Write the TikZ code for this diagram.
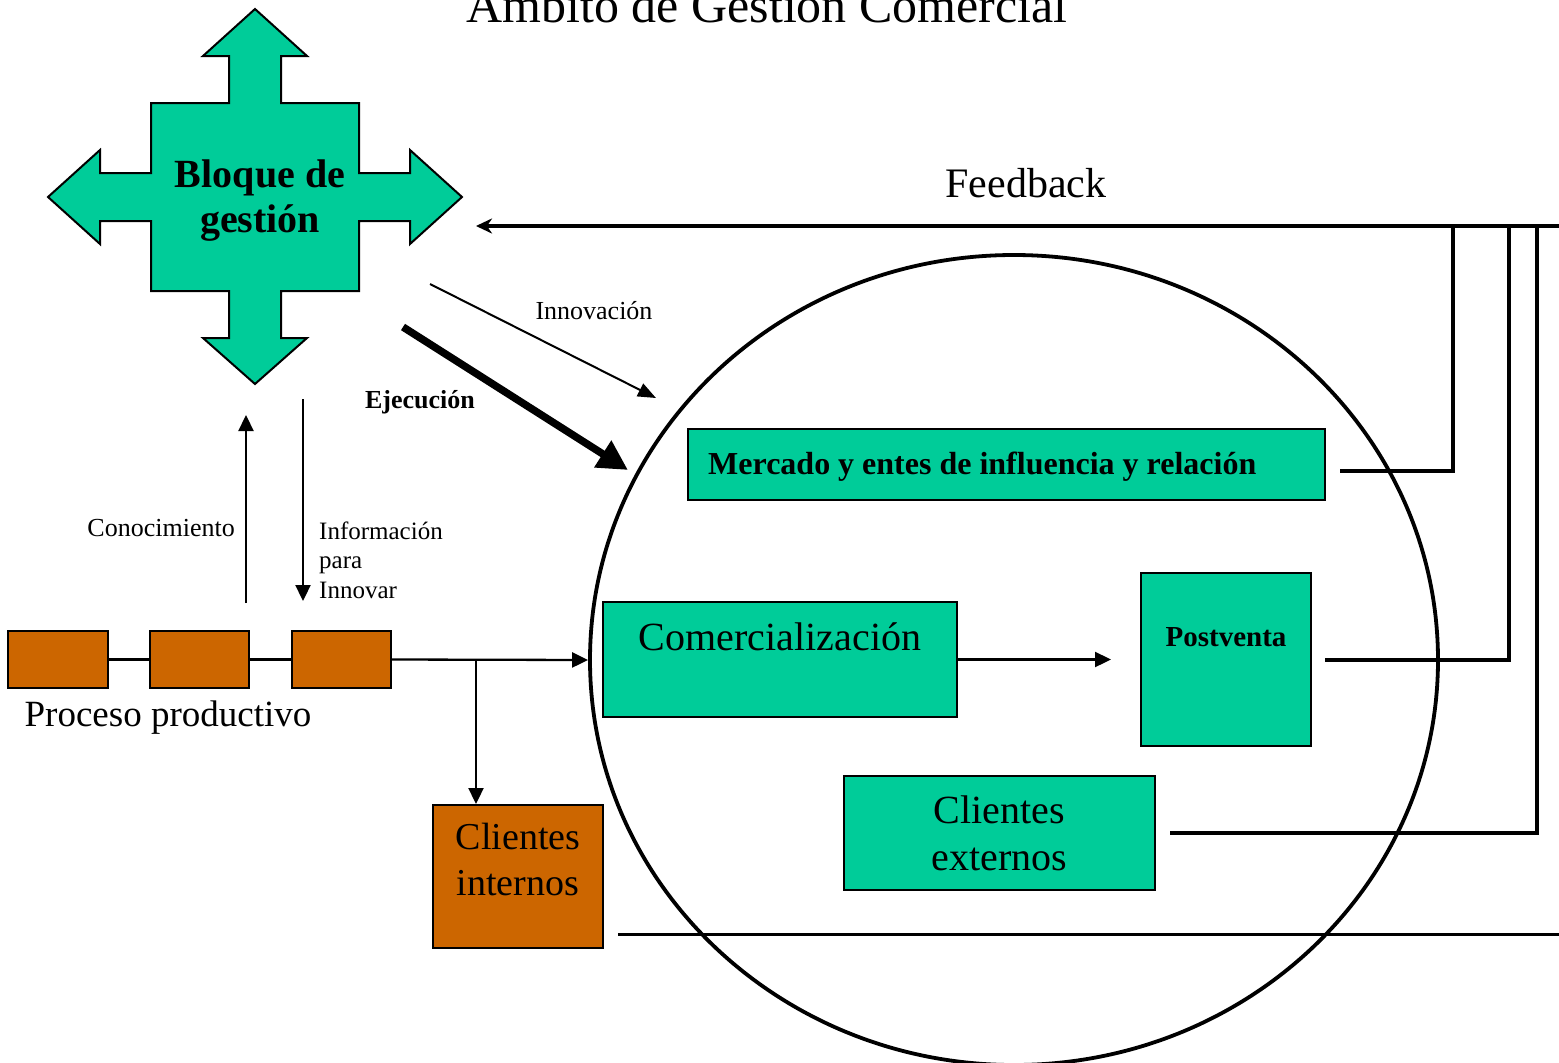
\documentclass[tikz,border=0pt]{standalone}
\usepackage{fontspec}
\setmainfont{Liberation Serif}
\usetikzlibrary{arrows.meta,shapes.geometric}
\definecolor{gestteal}{HTML}{00CC99}
\definecolor{prodorange}{HTML}{CC6600}
\tikzset{
  gbox/.style={draw, line width=2pt, fill=gestteal, rectangle, inner sep=0pt},
  obox/.style={draw, line width=2pt, fill=prodorange, rectangle, inner sep=0pt},
  lbl/.style={anchor=base, inner sep=0pt},
  flow/.style={line width=2.3pt, -{Triangle[length=16pt,width=15pt]}},
  fbline/.style={line width=3.6pt},
}
\newcommand{\fsz}[1]{\fontsize{#1}{#1}\selectfont}
\begin{document}
\begin{tikzpicture}[x=1pt,y=-1pt]
\useasboundingbox (0,0) rectangle (1559,1063);

% area of commercial management
\node[draw, ellipse, line width=3.8pt, minimum width=848pt, minimum height=810pt, inner sep=0pt] (ambit) at (1014,660) {};

% management block: four-way arrow
\draw[fill=gestteal, line width=2pt]
  (255,9) -- (307,56) -- (281,56) -- (281,103) -- (359,103) -- (359,173)
  -- (410,173) -- (410,150) -- (462,197) -- (410,244) -- (410,221) -- (359,221)
  -- (359,291) -- (281,291) -- (281,338) -- (307,338) -- (255,384) -- (203,338)
  -- (229,338) -- (229,291) -- (151,291) -- (151,221) -- (100,221) -- (100,244)
  -- (48,197) -- (100,150) -- (100,173) -- (151,173) -- (151,103) -- (229,103)
  -- (229,56) -- (203,56) -- cycle;
\node[lbl, font=\bfseries\fsz{40}] (bloqueA) at (260,187) {Bloque de};
\node[lbl, font=\bfseries\fsz{40}] (bloqueB) at (260,232) {gestión};

% boxes
\node[gbox, minimum width=637pt, minimum height=71pt] (merc) at (1006.5,464.5) {};
\node[gbox, minimum width=354pt, minimum height=115pt] (comer) at (780,659.5) {};
\node[gbox, minimum width=170pt, minimum height=173pt] (postv) at (1226,659.5) {};
\node[gbox, minimum width=311pt, minimum height=114pt] (cext) at (999.5,833) {};
\node[obox, minimum width=170pt, minimum height=143pt] (cint) at (518,876.5) {};
\node[obox, minimum width=100pt, minimum height=57pt] (p1) at (58,659.5) {};
\node[obox, minimum width=99pt, minimum height=57pt] (p2) at (199.5,659.5) {};
\node[obox, minimum width=99pt, minimum height=57pt] (p3) at (341.5,659.5) {};

% box texts
\node[anchor=base west, inner sep=0pt, font=\bfseries\fsz{32}] (mercT) at (708,474) {Mercado y entes de influencia y relación};
\node[lbl, font=\fsz{40}] (comerT) at (780,650) {Comercialización};
\node[lbl, font=\bfseries\fsz{29}] (postvT) at (1226,646) {Postventa};
\node[lbl, font=\fsz{40}] (cextA) at (999.5,823) {Clientes};
\node[lbl, font=\fsz{40}] (cextB) at (999.5,870) {externos};
\node[lbl, font=\fsz{38}] (cintA) at (518,849) {Clientes};
\node[lbl, font=\fsz{38}] (cintB) at (518,895) {internos};

% labels
\node[lbl, font=\fsz{50}] (title) at (767,22) {Ámbito de Gestión Comercial};
\node[lbl, font=\fsz{42}] (fbT) at (1026,197) {Feedback};
\node[lbl, font=\fsz{37}] (procT) at (168,726) {Proceso productivo};
\node[lbl, font=\fsz{26}] (innovT) at (594,319) {Innovación};
\node[lbl, font=\bfseries\fsz{26}] (ejecT) at (420,408) {Ejecución};
\node[anchor=base east, inner sep=0pt, font=\fsz{26}] (conT) at (235,536) {Conocimiento};
\node[anchor=base west, inner sep=0pt, font=\fsz{25}] (infA) at (319,539) {Información};
\node[anchor=base west, inner sep=0pt, font=\fsz{25}] (infB) at (319,568) {para};
\node[anchor=base west, inner sep=0pt, font=\fsz{25}] (infC) at (319,598) {Innovar};

% production chain
\draw[line width=2.3pt] (p1.east) -- (p2.west);
\draw[line width=2.3pt] (p2.east) -- (p3.west);
\draw[flow] (p3.east) -- (ambit.west);
\coordinate (br) at (476,660);
\draw[flow] (br) -- (br |- cint.north);
\draw[flow] (comer.east) -- ([xshift=-29pt]postv.west);

% knowledge exchange with the management block
\coordinate (conS) at (246,603);
\coordinate (conE) at (246,415);
\draw[flow] (conS) -- (conE);
\coordinate (infS) at (303,399);
\coordinate (infE) at (303,601);
\draw[flow] (infS) -- (infE);

% innovation and execution
\coordinate (innS) at (430,284);
\coordinate (innE) at (656,398);
\draw[line width=2pt, -{Triangle[length=18pt,width=14pt]}] (innS) -- (innE);
\coordinate (ejeS) at (403,327);
\coordinate (ejeE) at (628,470);
\draw[line width=7.5pt, -{Triangle[length=30pt,width=30pt]}] (ejeS) -- (ejeE);

% feedback loop
\coordinate (fbR) at (1559,226);
\coordinate (fbL) at (476,226);
\draw[line width=3.6pt, -{Stealth[length=16pt,width=15pt,inset=5pt]}] (fbR) -- (fbL);
\coordinate (mercO) at (1340,471);
\coordinate (postO) at (1325,660);
\coordinate (cextO) at (1170,833);
\coordinate (k1) at (1453,226);
\coordinate (k2) at (1509,226);
\coordinate (k3) at (1537,226);
\draw[fbline] (mercO) -| (k1);
\draw[fbline] (postO) -| (k2);
\draw[fbline] (cextO) -| (k3);
\coordinate (cintO) at (618,934);
\coordinate (botR) at (1559,934);
\draw[line width=3pt] (cintO) -- (botR);
\end{tikzpicture}
\end{document}
